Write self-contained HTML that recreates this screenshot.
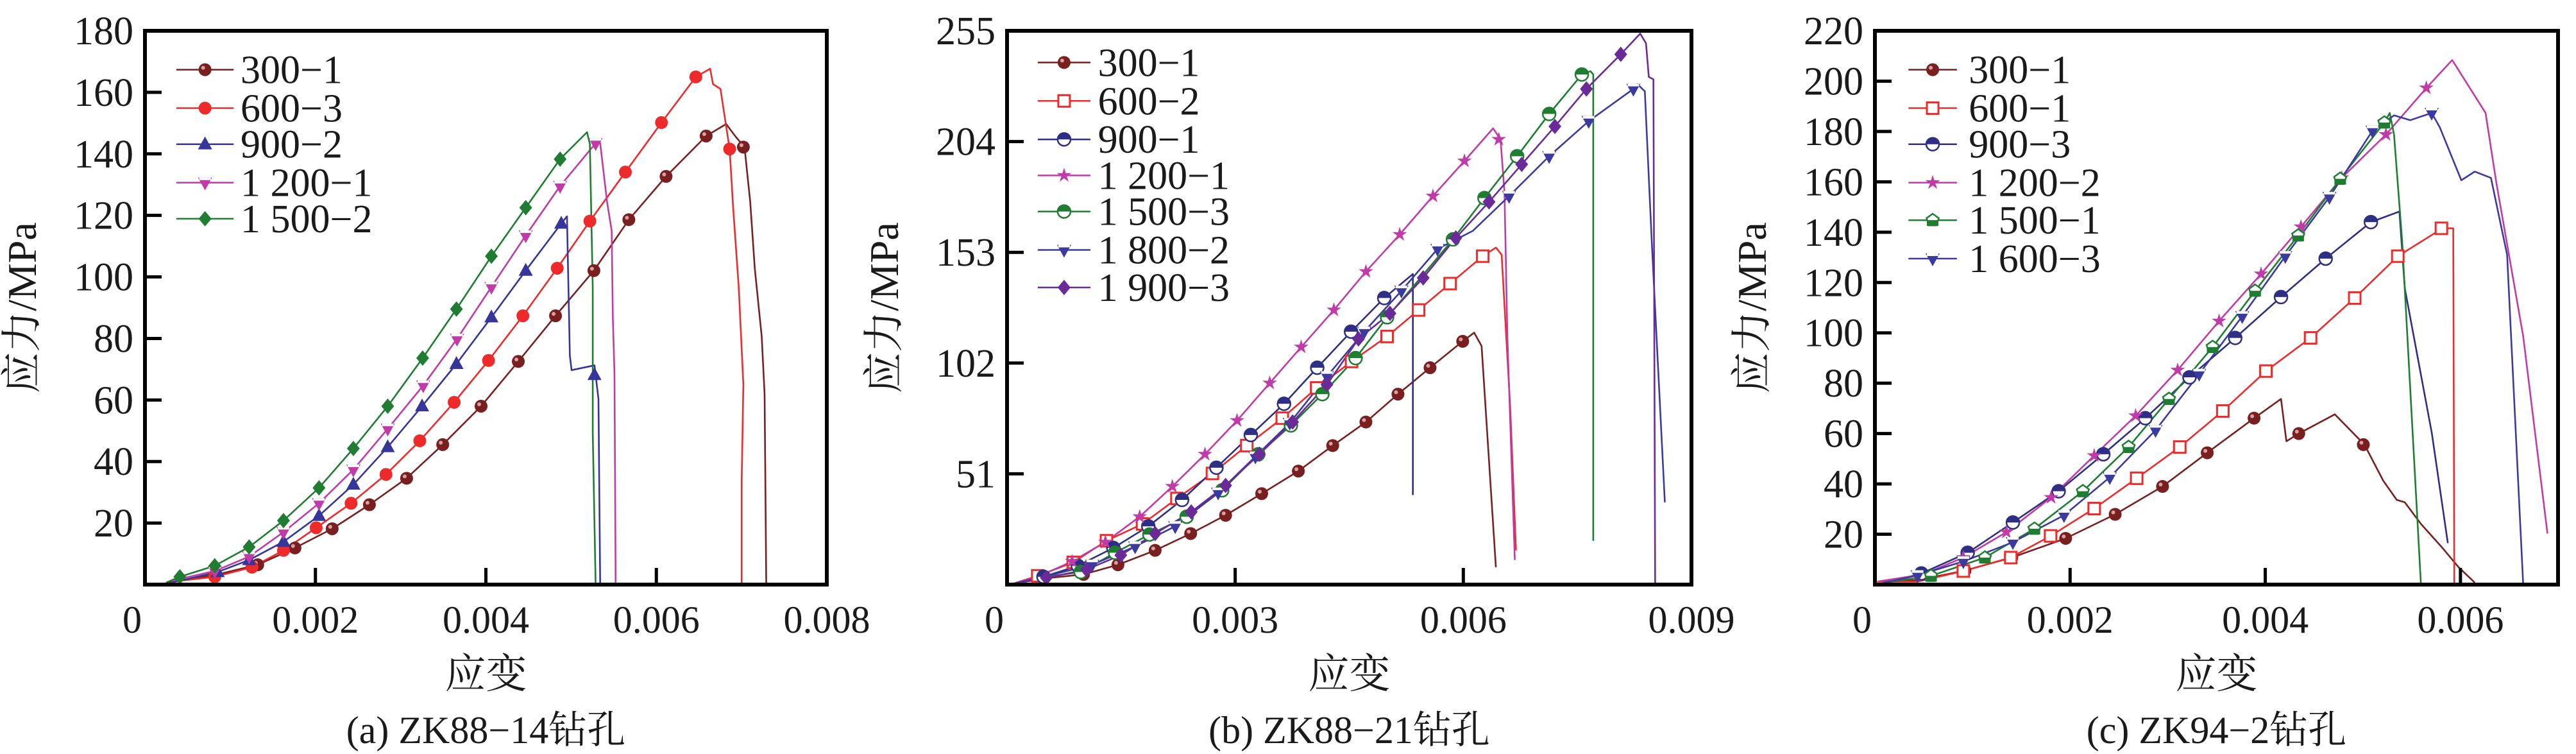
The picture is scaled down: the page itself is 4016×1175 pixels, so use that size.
<!DOCTYPE html>
<html><head><meta charset="utf-8"><style>
html,body{margin:0;padding:0;background:#fff;}
svg{display:block;}
</style></head><body>
<svg id="s" width="4016" height="1175" viewBox="0 0 4016 1175" xmlns="http://www.w3.org/2000/svg"></svg>
<script>
const S=document.getElementById('s');
const NS='http://www.w3.org/2000/svg';
const FF="'Liberation Serif','DejaVu Serif','Noto Serif CJK SC',serif";
function el(t,a,p){const e=document.createElementNS(NS,t);for(const k in a)e.setAttribute(k,a[k]);(p||S).appendChild(e);return e;}
function txt(s,a){a['font-family']=FF;a['style']="font-family:"+FF;a.fill='#1a1a1a';const e=el('text',a);e.textContent=s;return e;}
const YF=1.335;
const panels=[
 {off:0,fx:1.12,x0:226,x1:1289,xmax:0.008,ymax:180,xt:[[0,'0'],[0.002,'0.002'],[0.004,'0.004'],[0.006,'0.006'],[0.008,'0.008']],yt:[20,40,60,80,100,120,140,160,180],cap:'(a) ZK88−14钻孔',
  leg:{lx0:308,lx1:408,tx:420,rows:[145,225,300,380,455]},
  series:[
   {n:'300−1',c:'#7a1f1f',m:'ball',
    l:[[290,1212],[380,1195],[450,1175],[515,1140],[580,1100],[645,1050],[710,995],[773,925],[840,845],[905,752],[970,657],[1037,563],[1098,457],[1163,367],[1233,283],[1268,258],[1285,285],[1300,306],[1310,420],[1318,560],[1330,700],[1335,820],[1338,1217]],
    p:[[450,1175],[515,1140],[580,1100],[645,1050],[710,995],[773,925],[840,845],[905,752],[970,657],[1037,563],[1098,457],[1163,367],[1233,283],[1298,306]]},
   {n:'600−3',c:'#ee2a2a',m:'dot',
    l:[[300,1210],[375,1200],[440,1180],[495,1145],[552,1098],[613,1047],[674,987],[733,917],[793,837],[853,750],[913,657],[973,558],[1030,460],[1092,358],[1155,255],[1215,160],[1240,143],[1245,175],[1258,185],[1265,240],[1274,310],[1280,430],[1290,600],[1298,800],[1295,1000],[1295,1217]],
    p:[[375,1200],[440,1180],[495,1145],[552,1098],[613,1047],[674,987],[733,917],[793,837],[853,750],[913,657],[973,558],[1030,460],[1092,358],[1155,255],[1215,160],[1274,310]]},
   {n:'900−2',c:'#35359a',m:'tri',
    l:[[300,1212],[380,1190],[435,1165],[495,1127],[557,1073],[617,1008],[677,930],[737,845],[797,757],[858,660],[918,563],[980,465],[990,450],[995,740],[998,770],[1038,760],[1045,830],[1048,1217]],
    p:[[380,1190],[435,1165],[495,1127],[557,1073],[617,1008],[677,930],[737,845],[797,757],[858,660],[918,563],[980,465],[1038,780]]},
   {n:'1 200−1',c:'#c03aa8',m:'trid',
    l:[[300,1208],[375,1188],[435,1158],[495,1107],[557,1047],[617,977],[677,892],[739,802],[798,705],[858,597],[918,490],[978,387],[1040,298],[1048,298],[1060,420],[1068,480],[1070,660],[1073,780],[1075,1217]],
    p:[[375,1188],[435,1158],[495,1107],[557,1047],[617,977],[677,892],[739,802],[798,705],[858,597],[918,490],[978,387],[1040,298]]},
   {n:'1 500−2',c:'#1f7d32',m:'dia',
    l:[[290,1212],[314,1200],[375,1177],[435,1138],[495,1083],[557,1015],[617,933],[677,845],[738,745],[797,643],[858,533],[918,432],[978,331],[1025,275],[1030,300],[1035,600],[1035,900],[1040,1217]],
    p:[[314,1200],[375,1177],[435,1138],[495,1083],[557,1015],[617,933],[677,845],[738,745],[797,643],[858,533],[918,432],[978,331]]}
  ]},
 {off:1350,fx:1.12,x0:1570,x1:2637,xmax:0.009,ymax:255,xt:[[0,'0'],[0.003,'0.003'],[0.006,'0.006'],[0.009,'0.009']],yt:[51,102,153,204,255],cap:'(b) ZK88−21钻孔',
  leg:{lx0:300,lx1:392,tx:405,rows:[130,210,290,365,440,520,598]},
  series:[
   {n:'300−1',c:'#7a1f1f',m:'ball',
    l:[[255,1215],[315,1203],[380,1195],[440,1175],[505,1145],[567,1110],[628,1072],[691,1027],[755,980],[815,927],[873,878],[929,820],[985,765],[1042,710],[1062,692],[1075,720],[1100,1180]],
    p:[[380,1195],[440,1175],[505,1145],[567,1110],[628,1072],[691,1027],[755,980],[815,927],[873,878],[929,820],[985,765],[1042,710]]},
   {n:'600−2',c:'#ee2a2a',m:'sq',
    l:[[255,1215],[300,1198],[362,1170],[420,1125],[483,1090],[543,1037],[605,985],[665,927],[727,870],[787,807],[848,752],[910,700],[965,645],[1020,590],[1077,533],[1100,515],[1110,530],[1125,850],[1135,1145]],
    p:[[300,1198],[362,1170],[420,1125],[483,1090],[543,1037],[605,985],[665,927],[727,870],[787,807],[848,752],[910,700],[965,645],[1020,590],[1077,533]]},
   {n:'900−1',c:'#2e2e85',m:'half',
    l:[[255,1215],[310,1200],[370,1177],[432,1140],[493,1095],[552,1040],[612,973],[672,905],[730,840],[788,765],[847,690],[905,620],[955,570],[955,1030]],
    p:[[310,1200],[370,1177],[432,1140],[493,1095],[552,1040],[612,973],[672,905],[730,840],[788,765],[847,690],[905,620]]},
   {n:'1 200−1',c:'#c03aa8',m:'star',
    l:[[255,1215],[300,1200],[360,1168],[418,1128],[478,1075],[535,1012],[592,945],[648,875],[705,797],[760,722],[817,645],[873,565],[932,488],[990,408],[1045,335],[1095,267],[1108,290],[1115,400],[1120,700],[1133,1165]],
    p:[[360,1168],[418,1128],[478,1075],[535,1012],[592,945],[648,875],[705,797],[760,722],[817,645],[873,565],[932,488],[990,408],[1045,335],[1105,290]]},
   {n:'1 500−3',c:'#1f7d32',m:'half',
    l:[[255,1215],[315,1200],[375,1190],[435,1150],[495,1112],[560,1075],[622,1020],[685,945],[742,885],[797,820],[855,745],[910,660],[967,580],[1025,498],[1080,412],[1137,325],[1193,237],[1250,155],[1265,148],[1270,155],[1270,1125]],
    p:[[375,1190],[435,1150],[495,1112],[560,1075],[622,1020],[685,945],[742,885],[797,820],[855,745],[910,660],[1025,498],[1080,412],[1137,325],[1193,237],[1250,155]]},
   {n:'1 800−2',c:'#3a3aa0',m:'trid',
    l:[[255,1215],[310,1200],[395,1175],[470,1137],[540,1095],[615,1025],[680,950],[740,880],[805,783],[870,690],[935,605],[998,518],[1060,480],[1123,408],[1193,325],[1262,252],[1340,185],[1347,175],[1360,190],[1372,500],[1395,1045]],
    p:[[395,1175],[470,1137],[540,1095],[615,1025],[680,950],[740,880],[805,783],[870,690],[935,605],[998,518],[1123,408],[1193,325],[1262,252],[1340,185]]},
   {n:'1 900−3',c:'#6a2a98',m:'dia',
    l:[[255,1215],[315,1202],[385,1185],[445,1155],[505,1110],[568,1065],[628,1010],[687,945],[745,878],[805,800],[860,705],[915,652],[973,578],[1030,495],[1088,420],[1145,342],[1203,263],[1258,185],[1318,113],[1352,70],[1362,90],[1367,160],[1375,165],[1378,1217]],
    p:[[315,1202],[385,1185],[445,1155],[505,1110],[568,1065],[628,1010],[687,945],[745,878],[805,800],[860,705],[915,652],[973,578],[1030,495],[1088,420],[1145,342],[1203,263],[1258,185],[1318,113]]}
  ]},
 {off:2700,fx:1.1915,x0:2923,x1:3988,xmax:0.007,ymax:220,xt:[[0,'0'],[0.002,'0.002'],[0.004,'0.004'],[0.006,'0.006']],yt:[20,40,60,80,100,120,140,160,180,200,220],cap:'(c) ZK94−2钻孔',
  leg:{lx0:328,lx1:418,tx:440,rows:[145,225,300,380,458,538]},
  series:[
   {n:'300−1',c:'#7a1f1f',m:'ball',
    l:[[275,1210],[345,1207],[433,1187],[520,1160],[620,1120],[712,1070],[800,1012],[883,942],[970,870],[1020,830],[1030,918],[1053,902],[1120,862],[1175,925],[1210,1000],[1235,1040],[1250,1045],[1280,1090],[1320,1140],[1350,1180],[1380,1212]],
    p:[[433,1187],[520,1160],[620,1120],[712,1070],[800,1012],[883,942],[970,870],[1053,902],[1173,925]]},
   {n:'600−1',c:'#ee2a2a',m:'sq',
    l:[[270,1210],[345,1210],[430,1188],[518,1160],[592,1115],[673,1058],[752,995],[832,930],[912,855],[992,772],[1075,703],[1157,620],[1237,533],[1320,475],[1340,475],[1342,1217]],
    p:[[430,1188],[518,1160],[592,1115],[673,1058],[752,995],[832,930],[912,855],[992,772],[1075,703],[1157,620],[1237,533],[1318,475]]},
   {n:'900−3',c:'#2e2e85',m:'half',
    l:[[280,1215],[352,1193],[438,1150],[522,1087],[607,1022],[690,945],[768,870],[850,785],[935,703],[1020,618],[1103,538],[1187,462],[1240,440],[1250,600],[1300,900],[1330,1130]],
    p:[[352,1193],[438,1150],[522,1087],[607,1022],[690,945],[768,870],[850,785],[935,703],[1020,618],[1103,538],[1187,462]]},
   {n:'1 200−2',c:'#c03aa8',m:'star',
    l:[[270,1210],[355,1195],[430,1160],[510,1107],[593,1035],[673,948],[750,865],[828,770],[905,668],[983,570],[1057,472],[1133,370],[1215,280],[1290,183],[1338,125],[1400,235],[1420,380],[1470,700],[1515,1110]],
    p:[[430,1160],[510,1107],[593,1035],[673,948],[750,865],[828,770],[905,668],[983,570],[1057,472],[1133,370],[1215,280],[1290,183]]},
   {n:'1 500−1',c:'#1f7d32',m:'pent',
    l:[[280,1213],[370,1198],[470,1160],[562,1100],[652,1022],[737,930],[812,830],[893,722],[972,605],[1052,490],[1130,372],[1212,255],[1222,235],[1230,280],[1245,500],[1280,1217]],
    p:[[370,1198],[470,1160],[562,1100],[652,1022],[737,930],[812,830],[893,722],[972,605],[1052,490],[1130,372],[1212,255]]},
   {n:'1 600−3',c:'#3a3aa0',m:'trid',
    l:[[280,1213],[345,1197],[430,1168],[522,1128],[617,1072],[702,993],[787,895],[868,778],[948,658],[1028,533],[1110,410],[1190,272],[1230,240],[1260,250],[1300,235],[1315,265],[1355,375],[1380,357],[1410,370],[1440,530],[1470,1217]],
    p:[[345,1197],[430,1168],[522,1128],[617,1072],[702,993],[787,895],[868,778],[948,658],[1028,533],[1110,410],[1190,272],[1300,235]]}
  ]}
];
function marker(m,c,x,y,g){
 const r=10;
 if(m==='ball'){el('circle',{cx:x,cy:y,r:r,fill:c},g);el('circle',{cx:x-3,cy:y-3,r:3,fill:'#d8a0a0'},g);}
 else if(m==='dot'){el('circle',{cx:x,cy:y,r:r,fill:c},g);}
 else if(m==='tri'){el('polygon',{points:`${x},${y-r-2} ${x-r-1},${y+r-2} ${x+r+1},${y+r-2}`,fill:c},g);}
 else if(m==='trid'){el('polygon',{points:`${x},${y+r+2} ${x-r-1},${y-r+2} ${x+r+1},${y-r+2}`,fill:c},g);el('rect',{x:x-r+1,y:y-r+2,width:2*r-2,height:4,fill:'#fff'},g);}
 else if(m==='dia'){el('polygon',{points:`${x},${y-r-2} ${x+r},${y} ${x},${y+r+2} ${x-r},${y}`,fill:c},g);}
 else if(m==='sq'){el('rect',{x:x-r+1,y:y-r+1,width:2*r-2,height:2*r-2,fill:'#fff',stroke:c,'stroke-width':3},g);}
 else if(m==='half'){el('circle',{cx:x,cy:y,r:r,fill:'#fff',stroke:c,'stroke-width':2.5},g);el('path',{d:`M${x-r},${y} A${r},${r} 0 0 1 ${x+r},${y} Z`,fill:c},g);}
 else if(m==='star'){let p=[];for(let i=0;i<10;i++){const a=-Math.PI/2+i*Math.PI/5,rr=i%2?r*0.45:r+2;p.push((x+rr*Math.cos(a)).toFixed(1)+','+(y+rr*Math.sin(a)).toFixed(1));}el('polygon',{points:p.join(' '),fill:c},g);}
 else if(m==='pent'){let p=[];for(let i=0;i<5;i++){const a=-Math.PI/2+i*2*Math.PI/5;p.push((x+r*Math.cos(a)).toFixed(1)+','+(y+r*Math.sin(a)).toFixed(1));}el('polygon',{points:p.join(' '),fill:'#fff',stroke:c,'stroke-width':2.5},g);el('rect',{x:x-r+1,y:y,width:2*r-2,height:r-1,fill:c},g);}
}
const y0=48,y1=911;
panels.forEach(P=>{
 const tx=zx=>P.off+zx/P.fx, ty=zy=>zy/YF;
 const X=v=>P.x0+v/P.xmax*(P.x1-P.x0), Y=v=>y1-v/P.ymax*(y1-y0);
 const g=el('g',{});
 P.series.forEach(s=>{
  el('polyline',{points:s.l.map(p=>tx(p[0]).toFixed(1)+','+ty(p[1]).toFixed(1)).join(' '),fill:'none',stroke:s.c,'stroke-width':2.6,'stroke-linejoin':'round'},g);
 });
 P.series.forEach(s=>{s.p.forEach(p=>marker(s.m,s.c,tx(p[0]),ty(p[1]),g));});
 P.series.forEach((s,i)=>{
  const yy=ty(P.leg.rows[i]);
  el('line',{x1:tx(P.leg.lx0),x2:tx(P.leg.lx1),y1:yy,y2:yy,stroke:s.c,'stroke-width':2.5});
  marker(s.m,s.c,(tx(P.leg.lx0)+tx(P.leg.lx1))/2,yy,S);
  txt(s.n,{x:tx(P.leg.tx),y:yy+21,'font-size':62});
 });
 el('rect',{x:P.x0,y:y0,width:P.x1-P.x0,height:y1-y0,fill:'none',stroke:'#000','stroke-width':6});
 P.yt.forEach(v=>{const yy=Y(v);if(v<P.ymax)el('line',{x1:P.x0,x2:P.x0+26,y1:yy,y2:yy,stroke:'#000','stroke-width':5});
  txt(String(v),{x:P.x0-18,y:yy+21,'font-size':62,'text-anchor':'end'});});
 P.xt.forEach(t=>{const xx=X(t[0]);if(t[0]>0&&t[0]<P.xmax)el('line',{x1:xx,x2:xx,y1:y1,y2:y1-26,stroke:'#000','stroke-width':5});
  txt(t[1],{x:t[0]===0?xx-20:xx,y:986,'font-size':60,'text-anchor':'middle'});});
 const cx=(P.x0+P.x1)/2;
 txt('应变',{x:cx,y:1072,'font-size':64,'text-anchor':'middle'});
 txt(P.cap,{x:cx,y:1158,'font-size':60,'text-anchor':'middle'});
 const lx=P.x0-170, ly=(y0+y1)/2;
 txt('应力/MPa',{x:lx,y:ly,'font-size':64,'text-anchor':'middle',transform:`rotate(-90 ${lx} ${ly})`});
});
</script>
</body></html>
